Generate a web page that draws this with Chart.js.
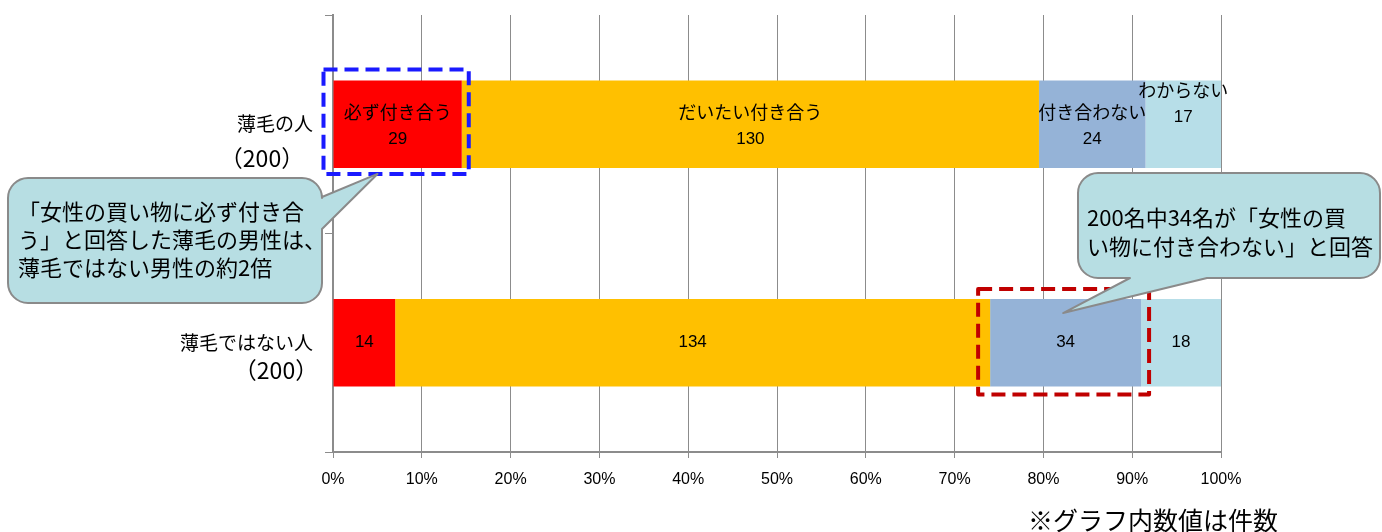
<!DOCTYPE html>
<html>
<head>
<meta charset="utf-8">
<script src="https://cdn.jsdelivr.net/npm/chart.js@4.4.1/dist/chart.umd.min.js"></script>
<style>
  html, body { margin: 0; padding: 0; background: #fff; }
  #wrap { width: 1382px; height: 532px; }
</style>
</head>
<body>
<div id="wrap"><canvas id="myChart" width="1382" height="532"></canvas></div>
<script>
const categories = ['薄毛の人', '薄毛ではない人'];
const sampleSizes = [200, 200];
const seriesNames = ['必ず付き合う', 'だいたい付き合う', '付き合わない', 'わからない'];
const alwaysGo = [29, 14];
const mostlyGo = [130, 134];
const notGo = [24, 34];
const dontKnow = [17, 18];
const tickLabels = ['0%', '10%', '20%', '30%', '40%', '50%', '60%', '70%', '80%', '90%', '100%'];

const colors = ['#FF0000', '#FFC000', '#95B3D7', '#B7DEE8'];
const JP = '"Noto Sans CJK JP", "Noto Sans", sans-serif';
const NUM = '"Liberation Sans", Arial, sans-serif';
const GRID = '#8C8C8C';

const data = {
    labels: categories,
    datasets: [alwaysGo, mostlyGo, notGo, dontKnow].map((values, i) => ({
        label: seriesNames[i],
        data: values,
        backgroundColor: colors[i],
        borderWidth: 0,
        categoryPercentage: 0.4,
        barPercentage: 1.0,
    }))
};

// value labels inside the bars (series names only on the first bar)
const barLabels = {
    id: 'barLabels',
    afterDatasetsDraw(chart) {
        const ctx = chart.ctx;
        ctx.save();
        ctx.fillStyle = '#000';
        ctx.textAlign = 'center';
        ctx.textBaseline = 'middle';
        chart.data.datasets.forEach((ds, di) => {
            chart.getDatasetMeta(di).data.forEach((bar, i) => {
                const cx = (bar.x + bar.base) / 2;
                if (i === 0) {
                    const lift = di === 3 ? 22 : 0;
                    ctx.font = '18px ' + JP;
                    ctx.fillText(ds.label, cx, bar.y - 12 - lift);
                    ctx.font = '17px ' + NUM;
                    ctx.fillText(ds.data[i], cx, bar.y + 15 - lift);
                } else {
                    ctx.font = '17px ' + NUM;
                    ctx.fillText(ds.data[i], cx, bar.y);
                }
            });
        });
        ctx.restore();
    }
};

function calloutPath(ctx, x, y, w, h, r, tail) {
    ctx.beginPath();
    ctx.moveTo(x + r, y);
    ctx.lineTo(x + w - r, y);
    ctx.arcTo(x + w, y, x + w, y + r, r);
    if (tail.side === 'right') {
        ctx.lineTo(x + w, tail.a);
        ctx.lineTo(tail.tx, tail.ty);
        ctx.lineTo(x + w, tail.b);
    }
    ctx.lineTo(x + w, y + h - r);
    ctx.arcTo(x + w, y + h, x + w - r, y + h, r);
    if (tail.side === 'bottom') {
        ctx.lineTo(tail.b, y + h);
        ctx.lineTo(tail.tx, tail.ty);
        ctx.lineTo(tail.a, y + h);
    }
    ctx.lineTo(x + r, y + h);
    ctx.arcTo(x, y + h, x, y + h - r, r);
    ctx.lineTo(x, y + r);
    ctx.arcTo(x, y, x + r, y, r);
    ctx.closePath();
}

// category labels, dashed highlight boxes, callouts, footnote
const decorations = {
    id: 'decorations',
    afterDraw(chart) {
        const ctx = chart.ctx;
        const yScale = chart.scales.y;
        ctx.save();

        // y category labels with sample size
        ctx.fillStyle = '#000';
        ctx.textBaseline = 'middle';
        const nX = [262, 276];
        const nOff = [34, 28];
        categories.forEach((c, i) => {
            const y = yScale.getPixelForValue(i);
            ctx.textAlign = 'right';
            ctx.font = '19px ' + JP;
            ctx.fillText(c, 313, y);
            ctx.textAlign = 'center';
            ctx.font = '23px ' + JP;
            ctx.fillText('（' + sampleSizes[i] + '）', nX[i], y + nOff[i]);
        });

        // dashed highlight boxes
        const b1 = chart.getDatasetMeta(0).data[0];
        const b2 = chart.getDatasetMeta(2).data[1];
        ctx.lineWidth = 4;
        ctx.lineJoin = 'round';
        ctx.setLineDash([14, 7]);
        ctx.strokeStyle = '#1A1AFF';
        ctx.strokeRect(b1.base - 10, b1.y - b1.height / 2 - 11, b1.x - b1.base + 17, b1.height + 17);
        ctx.strokeStyle = '#C00000';
        ctx.strokeRect(b2.base - 12, b2.y - b2.height / 2 - 10, b2.x - b2.base + 20, b2.height + 18);
        ctx.setLineDash([]);

        // callouts
        ctx.lineWidth = 2;
        ctx.strokeStyle = '#8A8A8A';
        ctx.fillStyle = '#B7DEE3';
        calloutPath(ctx, 8, 178, 314, 125, 20,
            { side: 'right', a: 197, b: 229, tx: b1.base + 44, ty: b1.y + b1.height / 2 + 6 });
        ctx.fill();
        ctx.stroke();
        calloutPath(ctx, 1078, 173, 302, 105, 20,
            { side: 'bottom', a: 1130, b: 1207, tx: b2.base + 73, ty: b2.y - b2.height / 2 + 14 });
        ctx.fill();
        ctx.stroke();

        ctx.fillStyle = '#000';
        ctx.textAlign = 'left';
        ctx.font = '22px ' + JP;
        ['「女性の買い物に必ず付き合', 'う」と回答した薄毛の男性は、', '薄毛ではない男性の約2倍']
            .forEach((t, i) => ctx.fillText(t, 18, 212 + i * 28));
        ['200名中34名が「女性の買', 'い物に付き合わない」と回答']
            .forEach((t, i) => ctx.fillText(t, 1087, 218 + i * 29));

        // footnote
        ctx.font = '25px ' + JP;
        ctx.fillText('※グラフ内数値は件数', 1028, 520);
        ctx.restore();
    }
};

const config = {
    type: 'bar',
    data: data,
    options: {
        indexAxis: 'y',
        responsive: false,
        animation: false,
        layout: { padding: { left: 0, top: 15, right: 161, bottom: 0 } },
        plugins: {
            legend: { display: false },
            tooltip: { enabled: false },
        },
        scales: {
            x: {
                stacked: true,
                min: 0,
                max: sampleSizes[0],
                afterFit: (s) => { s.height = 80; },
                ticks: {
                    stepSize: sampleSizes[0] / 10,
                    color: '#000',
                    padding: 12,
                    font: { family: NUM, size: 16 },
                    callback: (v, i) => tickLabels[i],
                },
                grid: { color: GRID, lineWidth: 1, tickLength: 6 },
                border: { color: GRID, width: 2 },
            },
            y: {
                stacked: true,
                afterFit: (s) => { s.width = 333; },
                ticks: { display: false },
                grid: { color: GRID, drawOnChartArea: false, tickLength: 8, offset: true },
                border: { color: GRID, width: 2 },
            }
        }
    },
    plugins: [barLabels, decorations],
};

const ctx = document.getElementById('myChart').getContext('2d');
new Chart(ctx, config);
</script>
</body>
</html>
